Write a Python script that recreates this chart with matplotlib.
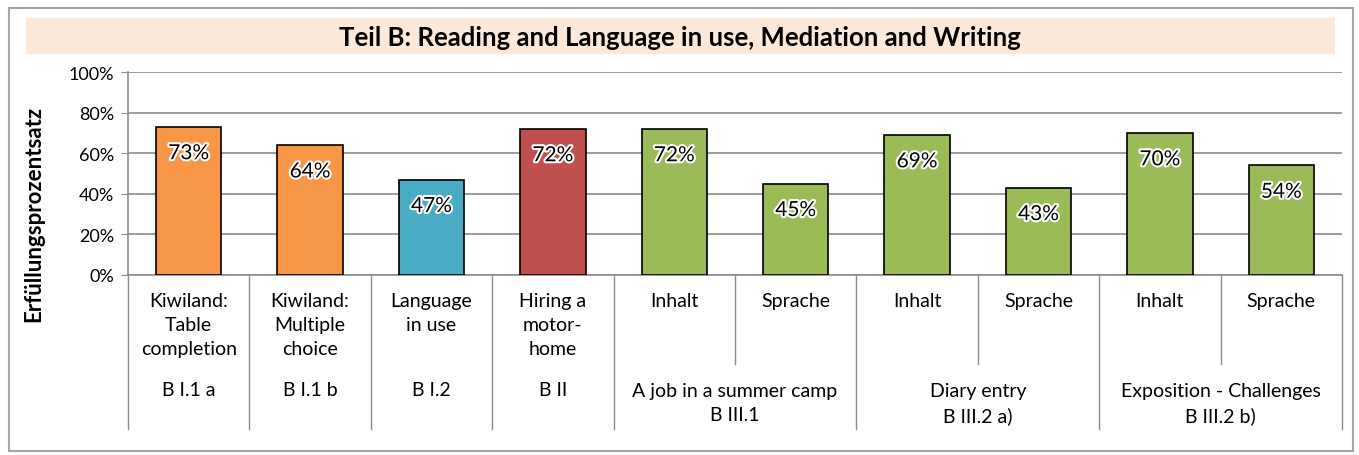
import matplotlib
matplotlib.use('Agg')
import matplotlib.pyplot as plt
import matplotlib.patches as mpatches
import matplotlib.patheffects as pe
import numpy as np

plt.rcParams['font.family'] = ['Lato', 'DejaVu Sans']

# --- data ---
values = [73, 64, 47, 72, 72, 45, 69, 43, 70, 54]
sub_labels = ['Kiwiland:\nTable\ncompletion', 'Kiwiland:\nMultiple\nchoice', 'Language\nin use',
              'Hiring a\nmotor-\nhome', 'Inhalt', 'Sprache', 'Inhalt', 'Sprache', 'Inhalt', 'Sprache']
groups = ['B I.1 a', 'B I.1 b', 'B I.2', 'B II',
          'A job in a summer camp\nB III.1', 'Diary entry\nB III.2 a)', 'Exposition - Challenges\nB III.2 b)']
group_span = [1, 1, 1, 1, 2, 2, 2]

ORANGE = '#F79646'
BLUE = '#4BACC6'
RED = '#C0504D'
GREEN = '#9BBB59'
bar_colors = [ORANGE, ORANGE, BLUE, RED, GREEN, GREEN, GREEN, GREEN, GREEN, GREEN]
GRID = '#8C8C8C'

W, H = 1359, 456
fig = plt.figure(figsize=(W / 100, H / 100), dpi=100, facecolor='white')

def fx(px): return px / W
def fy(py): return 1 - py / H

# outer border + title band
fig.patches.append(mpatches.Rectangle((fx(9), fy(452)), fx(1353) - fx(9), fy(9) - fy(452),
                                      transform=fig.transFigure, fill=False, edgecolor='#A6A6A6', lw=1.5))
fig.patches.append(mpatches.Rectangle((fx(26), fy(55)), fx(1335) - fx(26), fy(19) - fy(55),
                                      transform=fig.transFigure, facecolor='#FDE9D9', edgecolor='none'))
fig.text(fx(680), fy(38), 'Teil B: Reading and Language in use, Mediation and Writing',
         ha='center', va='center', fontsize=18.5, fontweight='bold')

x0, x1, ytop, ybot = 128, 1342, 73, 276
ax = fig.add_axes([fx(x0), fy(ybot), fx(x1) - fx(x0), fy(ytop) - fy(ybot)])
ax.set_facecolor('none')
n = len(values)
x = np.arange(n)
bars = ax.bar(x, values, width=0.54, color=bar_colors, edgecolor='black', linewidth=1.2, zorder=3)
ax.set_xlim(-0.5, n - 0.5)
ax.set_ylim(0, 100)
ax.set_yticks(np.arange(0, 101, 20))
ax.set_yticklabels([f'{v}%' for v in range(0, 101, 20)], fontsize=13)
ax.tick_params(axis='y', length=5, color=GRID, pad=5)
ax.set_xticks([])
ax.grid(axis='y', color=GRID, lw=1.2, zorder=0)
for s in ['top', 'right']:
    ax.spines[s].set_visible(False)
ax.spines['left'].set_color(GRID)
ax.spines['bottom'].set_color(GRID)
ax.spines['left'].set_linewidth(1.2)
ax.spines['bottom'].set_linewidth(1.2)

for xi, v in zip(x, values):
    ax.text(xi, v - 13, f'{v}%', ha='center', va='center', fontsize=15, zorder=4,
            path_effects=[pe.withStroke(linewidth=3, foreground='white')])

def ay(py): return (ybot - py) / (ybot - ytop)

ax.set_ylabel('Erfüllungsprozentsatz', fontsize=16, fontweight='bold')
ax.yaxis.set_label_coords(-(x0 - 44) / (x1 - x0), ay(214))

tr = ax.get_xaxis_transform()
# category labels
for xi, lab in zip(x, sub_labels):
    ax.text(xi, ay(293), lab, transform=tr, ha='center', va='top', fontsize=14,
            linespacing=1.5, clip_on=False)

# group labels and dividers
pos = 0
bounds = [-0.5]
for g, span in zip(groups, group_span):
    c = pos + (span - 1) / 2
    if span > 1:
        # short divider between Inhalt / Sprache
        ax.plot([c, c], [ay(276), ay(365)], transform=tr, color=GRID, lw=1, clip_on=False)
        ax.text(c, ay(404), g, transform=tr, ha='center', va='center', fontsize=14,
                linespacing=1.5, clip_on=False)
    else:
        ax.text(c, ay(391), g, transform=tr, ha='center', va='center', fontsize=14, clip_on=False)
    pos += span
    bounds.append(pos - 0.5)

for b in bounds:
    ax.plot([b, b], [ay(276), ay(430)], transform=tr, color=GRID, lw=1, clip_on=False)

fig.savefig('out.png', dpi=100, facecolor='white')
